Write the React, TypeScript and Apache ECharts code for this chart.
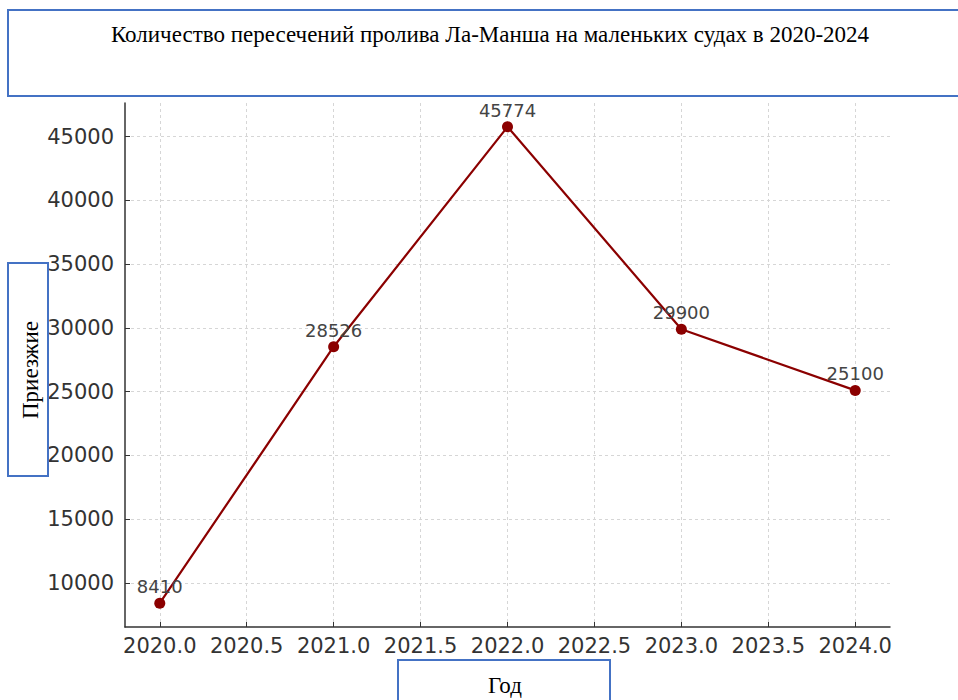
import React, { useEffect, useRef } from "react";
import * as echarts from "echarts";

const years = [2020, 2021, 2022, 2023, 2024];
const arrivals = [8410, 28526, 45774, 29900, 25100];
const xTicks = [2020, 2020.5, 2021, 2021.5, 2022, 2022.5, 2023, 2023.5, 2024];
const yTicks = [10000, 15000, 20000, 25000, 30000, 35000, 40000, 45000];
const titleText = "Количество пересечений пролива Ла-Манша на маленьких судах в 2020-2024";
const yName = "Приезжие";
const xName = "Год";

export default function App() {
  const ref = useRef<HTMLDivElement>(null);
  useEffect(() => {
    if (!ref.current) return;
    const chart = echarts.init(ref.current, undefined, { renderer: "svg" });
    const blue = "#4472C4";
    const serif = "'Liberation Serif', 'Times New Roman', serif";
    chart.setOption({
      animation: false,
      backgroundColor: "#ffffff",
      grid: { left: 125, right: 68, top: 103, bottom: 73 },
      xAxis: {
        type: "value",
        min: 2019.8,
        max: 2024.2,
        axisLine: { show: true, lineStyle: { color: "#333", width: 1.5 } },
        axisTick: { show: true, inside: true, length: 5, customValues: xTicks, lineStyle: { color: "#333" } },
        axisLabel: {
          customValues: xTicks,
          formatter: (v: number) => v.toFixed(1),
          fontFamily: "DejaVu Sans",
          fontSize: 21,
          color: "#333",
          margin: 8,
        },
        splitLine: { show: true, lineStyle: { color: "#d6d6d6", type: [3, 3], width: 1 } },
      },
      yAxis: {
        type: "value",
        min: 6542,
        max: 47642,
        axisLine: { show: true, lineStyle: { color: "#333", width: 1.5 } },
        axisTick: { show: true, inside: true, length: 5, customValues: yTicks, lineStyle: { color: "#333" } },
        axisLabel: {
          customValues: yTicks,
          formatter: (v: number) => String(v),
          fontFamily: "DejaVu Sans",
          fontSize: 21,
          color: "#333",
          margin: 11,
        },
        splitLine: { show: true, lineStyle: { color: "#d6d6d6", type: [3, 3], width: 1 } },
      },
      series: [
        {
          type: "line",
          data: years.map((y, i) => [y, arrivals[i]]),
          symbol: "circle",
          symbolSize: 11,
          itemStyle: { color: "#8B0000" },
          lineStyle: { color: "#8B0000", width: 2.2 },
          label: {
            show: true,
            position: "top",
            distance: 2,
            fontFamily: "DejaVu Sans",
            fontSize: 18,
            color: "#444",
            formatter: (p: any) => String(p.value[1]),
          },
        },
      ],
      graphic: [
        {
          type: "rect",
          shape: { x: 8, y: 10, width: 960, height: 86 },
          style: { fill: "#fff", stroke: blue, lineWidth: 2 },
          z: 100,
        },
        {
          type: "text",
          x: 490,
          y: 34,
          style: { text: titleText, font: `23px ${serif}`, fill: "#000", align: "center", verticalAlign: "middle" },
          z: 101,
        },
        {
          type: "rect",
          shape: { x: 8, y: 263, width: 40, height: 213 },
          style: { fill: "#fff", stroke: blue, lineWidth: 2 },
          z: 100,
        },
        {
          type: "text",
          x: 30,
          y: 370,
          rotation: Math.PI / 2,
          style: { text: yName, font: `23px ${serif}`, fill: "#000", align: "center", verticalAlign: "middle" },
          z: 101,
        },
        {
          type: "rect",
          shape: { x: 398, y: 660, width: 212, height: 50 },
          style: { fill: "#fff", stroke: blue, lineWidth: 2 },
          z: 100,
        },
        {
          type: "text",
          x: 505,
          y: 685,
          style: { text: xName, font: `23px ${serif}`, fill: "#000", align: "center", verticalAlign: "middle" },
          z: 101,
        },
      ],
    });
    return () => chart.dispose();
  }, []);
  return <div ref={ref} style={{ position: "fixed", left: 0, top: 0, width: 958, height: 700 }} />;
}
